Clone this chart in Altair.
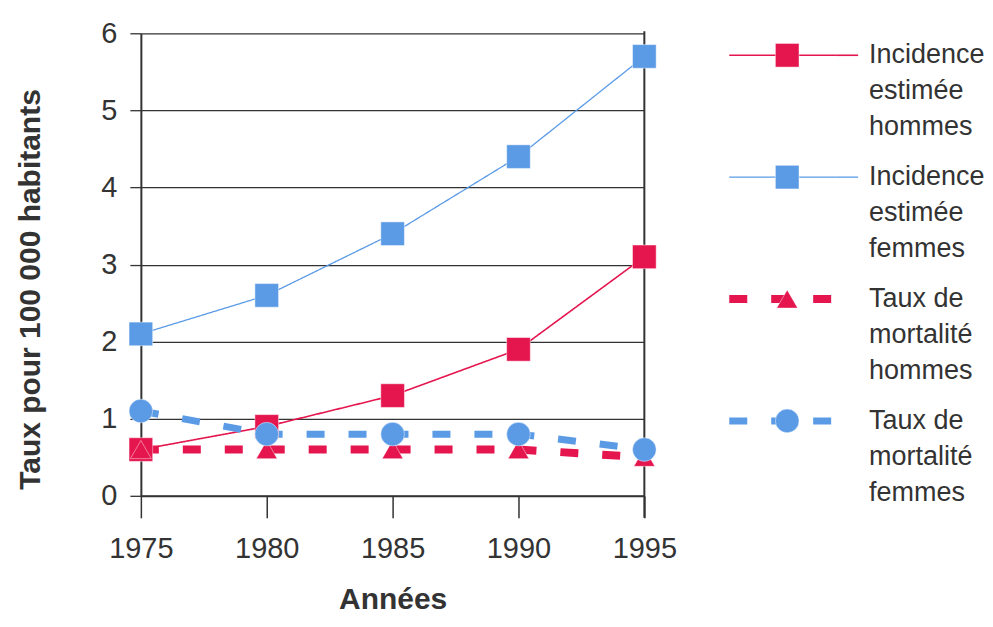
import altair as alt
import pandas as pd

years = [1975, 1980, 1985, 1990, 1995]
series_names = [
    "Incidence estimée hommes",
    "Incidence estimée femmes",
    "Taux de mortalité hommes",
    "Taux de mortalité femmes",
]
incidence_hommes = [0.6, 0.9, 1.3, 1.9, 3.1]
incidence_femmes = [2.1, 2.6, 3.4, 4.4, 5.7]
mortalite_hommes = [0.6, 0.6, 0.6, 0.6, 0.5]
mortalite_femmes = [1.1, 0.8, 0.8, 0.8, 0.6]
legend_labels = [
    "Incidence\nestimée\nhommes",
    "Incidence\nestimée\nfemmes",
    "Taux de\nmortalité\nhommes",
    "Taux de\nmortalité\nfemmes",
]
y_ticks = [0, 1, 2, 3, 4, 5, 6]

RED = "#E5154E"
BLUE = "#5B9BE6"
colors = [RED, BLUE, RED, BLUE]
shapes = ["square", "square", "triangle-up", "circle"]
dashes = [[1, 0], [1, 0], [18, 24], [18, 24]]
widths = [1.6, 1.3, 8, 7]
sizes = [560, 560, 440, 560]
FONT = "Liberation Sans"
TXT = "#333333"

rows = []
for name, vals in zip(series_names, [incidence_hommes, incidence_femmes, mortalite_hommes, mortalite_femmes]):
    for yr, v in zip(years, vals):
        rows.append({"Année": yr, "Taux": v, "Série": name})
df = pd.DataFrame(rows)

color = alt.Color("Série:N", scale=alt.Scale(domain=series_names, range=colors), legend=None)
shape = alt.Shape("Série:N", scale=alt.Scale(domain=series_names, range=shapes), legend=None)
dash = alt.StrokeDash("Série:N", scale=alt.Scale(domain=series_names, range=dashes), legend=None)
swidth = alt.StrokeWidth("Série:O", sort=series_names,
                         scale=alt.Scale(type="ordinal", domain=series_names, range=widths), legend=None)
psize = alt.Size("Série:O", sort=series_names,
                 scale=alt.Scale(type="ordinal", domain=series_names, range=sizes), legend=None)

x = alt.X(
    "Année:Q",
    scale=alt.Scale(domain=[1975, 1995], nice=False, zero=False),
    axis=alt.Axis(
        values=years, format="d", title="Années", grid=False, labelFlush=False,
        tickSize=22, tickColor="#333", tickWidth=1.5, domainColor="#333", domainWidth=2,
        labelFontSize=29, labelColor=TXT, labelFont=FONT, labelPadding=17,
        titleFontSize=30, titleFont=FONT, titleFontWeight="bold", titleColor=TXT, titlePadding=21,
    ),
)
y = alt.Y(
    "Taux:Q",
    scale=alt.Scale(domain=[0, 6], nice=False),
    axis=alt.Axis(
        values=y_ticks, format="d", title="Taux pour 100 000 habitants", grid=True,
        gridColor="#333", gridWidth=1.3, tickSize=11, tickColor="#333", tickWidth=1.3,
        domainColor="#333", domainWidth=2,
        labelFontSize=29, labelColor=TXT, labelFont=FONT, labelPadding=13,
        titleFontSize=30, titleFont=FONT, titleFontWeight="bold", titleColor=TXT,
        titlePadding=55, titleY=256,
    ),
)

base = alt.Chart(df)
lines = base.mark_line().encode(x=x, y=y, color=color, strokeDash=dash, strokeWidth=swidth,
                                 detail="Série:N", order=alt.Order("Année:Q"))
points = base.mark_point(filled=True, opacity=1, strokeWidth=1).encode(
    x="Année:Q", y="Taux:Q", color=color, shape=shape, size=psize,
    stroke=alt.value("#ffffff"), strokeOpacity=alt.value(0.45))
border = alt.Chart(pd.DataFrame({"Année": [years[-1]]})).mark_rule(color="#333", strokeWidth=2).encode(
    x="Année:Q", y=alt.value(-2), y2=alt.value(485))

main = alt.layer(lines, border, points).properties(width=504, height=463)

# legend panel
leg = pd.DataFrame({"Série": series_names, "label": legend_labels})
ly = alt.Y("Série:N", sort=series_names, scale=alt.Scale(type="point", range=[22, 388], padding=0), axis=None)
lg_lines = alt.Chart(leg).mark_rule().encode(
    y=ly, x=alt.value(0), x2=alt.value(107), color=color, strokeDash=dash, strokeWidth=swidth)
lg_lines_solid = alt.Chart(leg).transform_filter(
    alt.FieldOneOfPredicate(field="Série", oneOf=series_names[:2])
).mark_rule().encode(y=ly, x=alt.value(107), x2=alt.value(129), color=color, strokeWidth=swidth)
lg_points = alt.Chart(leg).mark_point(filled=True, opacity=1, strokeWidth=1).encode(
    y=ly, x=alt.value(58), color=color, shape=shape, size=psize,
    stroke=alt.value("#ffffff"), strokeOpacity=alt.value(0.45))
lg_text = alt.Chart(leg).mark_text(
    align="left", baseline="middle", lineBreak="\n", lineHeight=36,
    fontSize=27, font=FONT, color=TXT,
).encode(y=ly, x=alt.value(140), text="label:N")
legend = alt.layer(lg_lines, lg_lines_solid, lg_points, lg_text).properties(width=225, height=463)

chart = alt.hconcat(main, legend, spacing=48).properties(
    padding={"left": 7, "top": 11, "right": 0, "bottom": 0}
).configure_view(stroke=None).configure_concat(spacing=48)

chart.save("out.html", embed_options={"renderer": "svg", "actions": False})
